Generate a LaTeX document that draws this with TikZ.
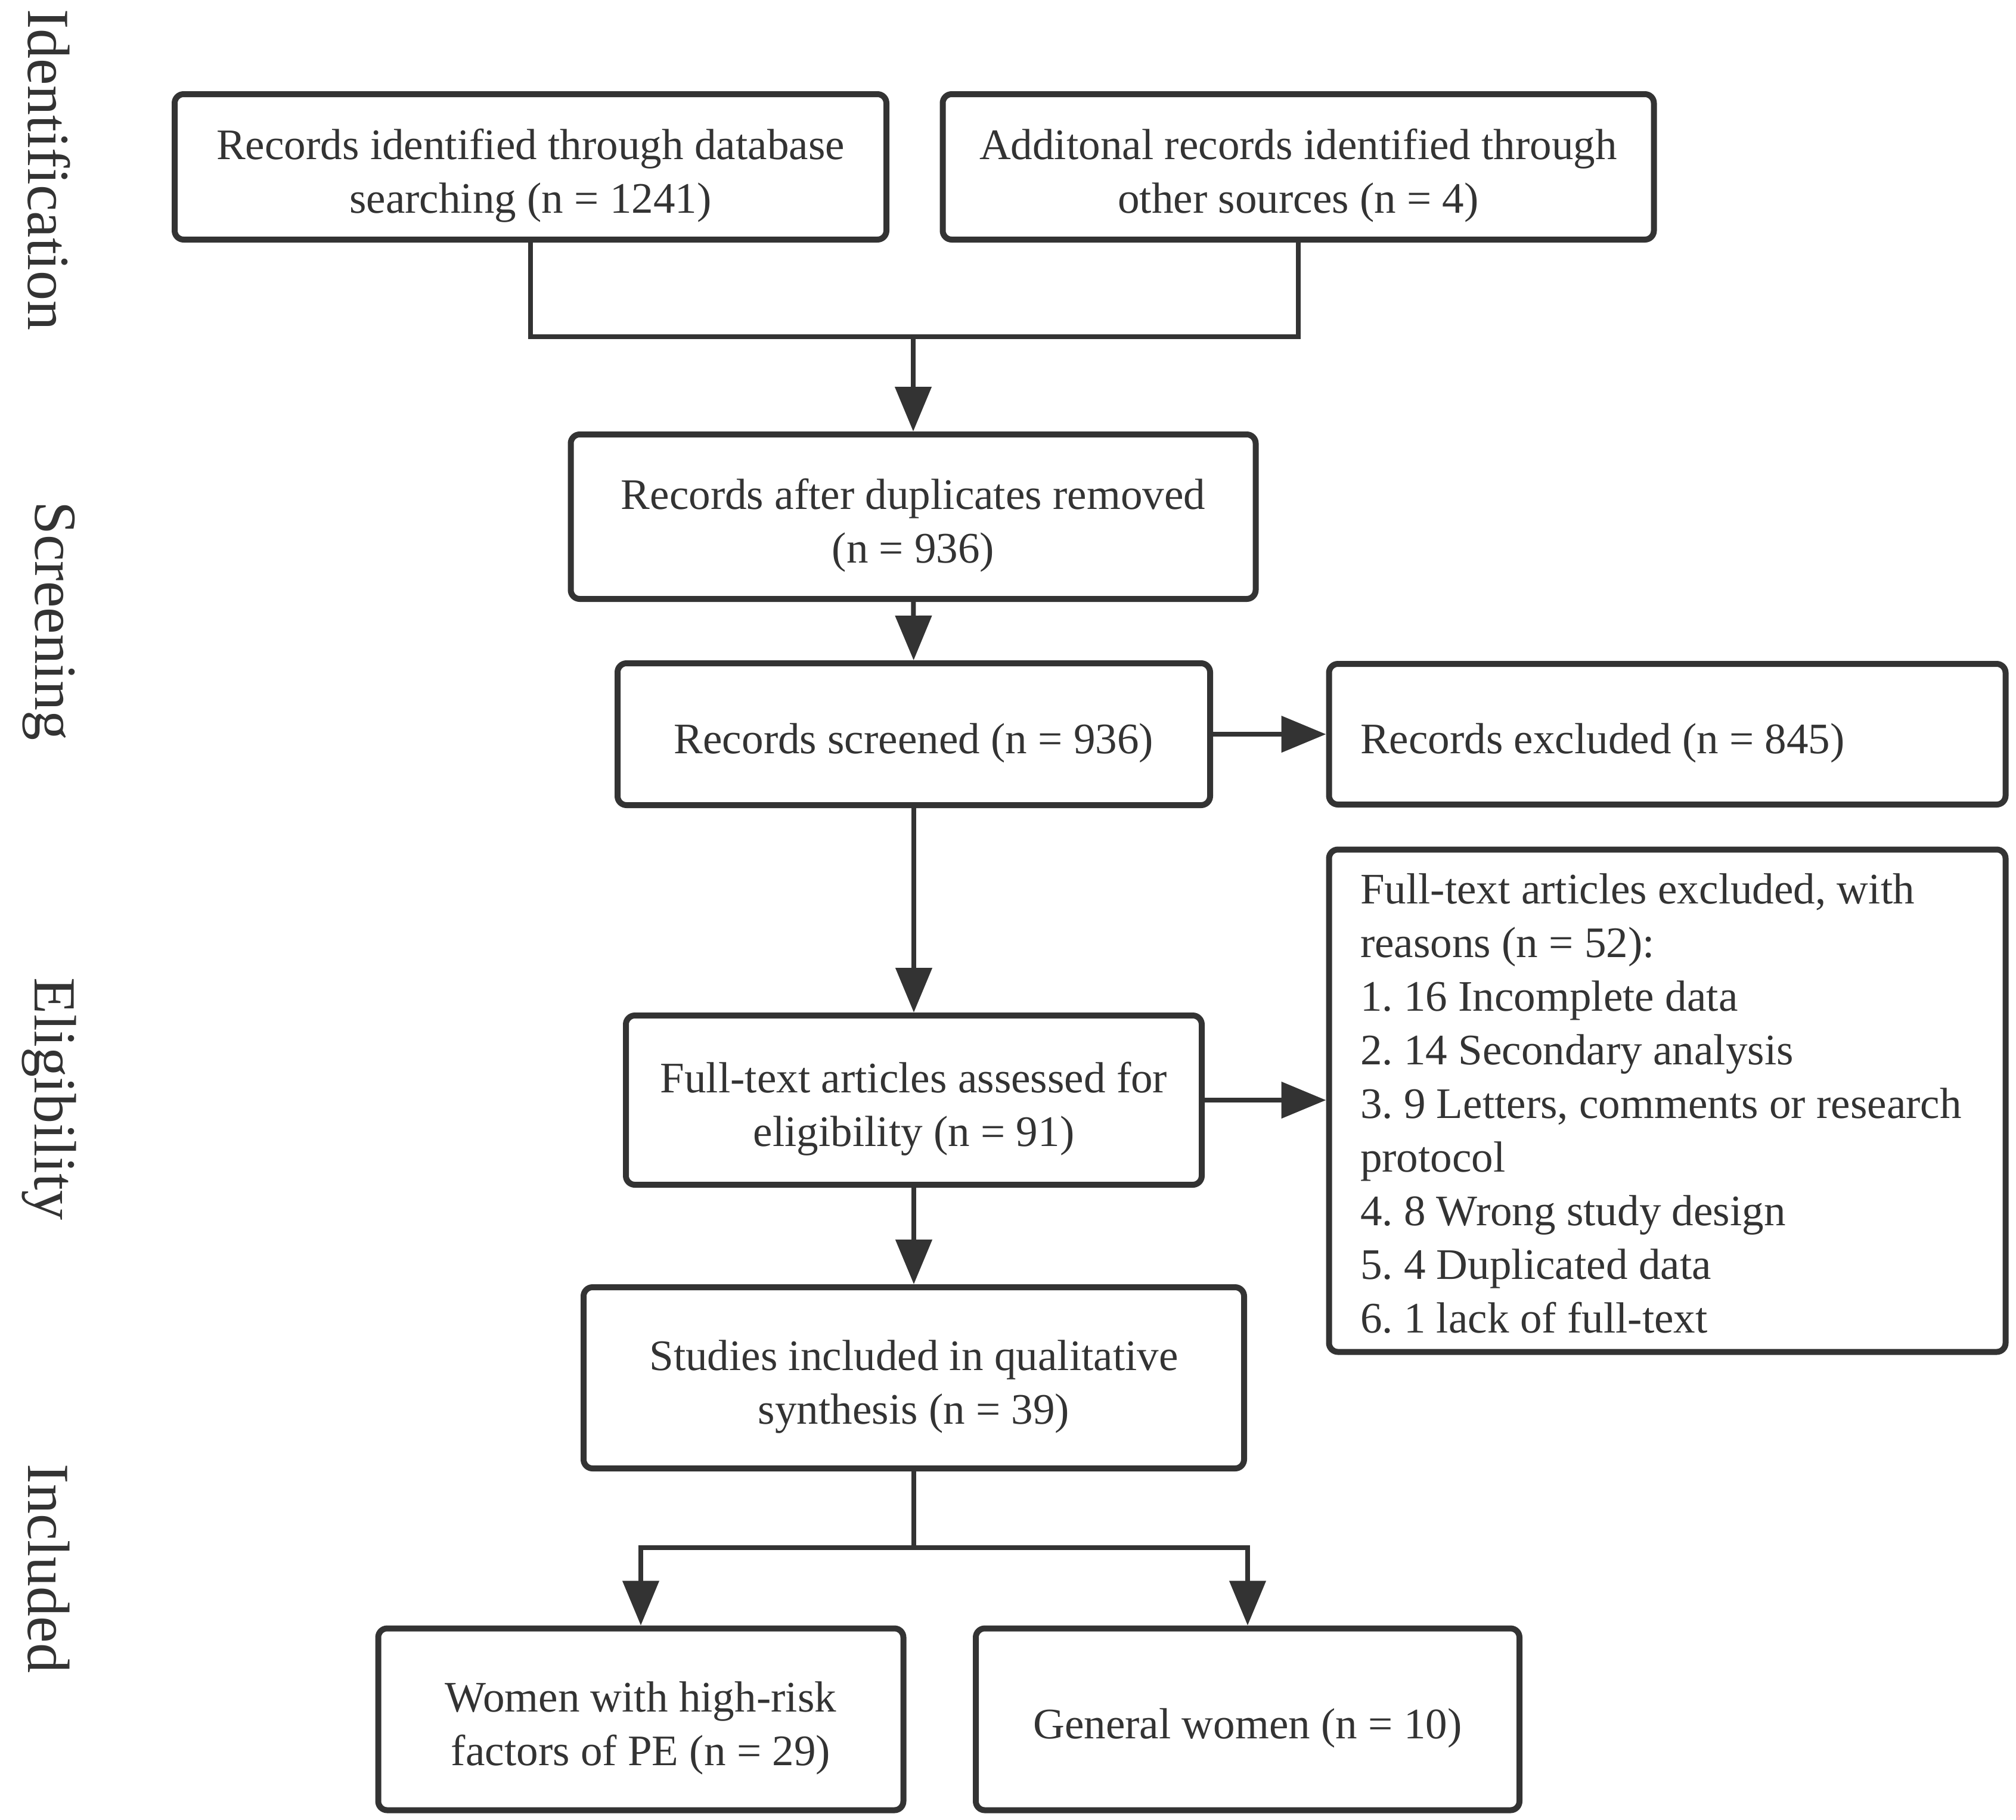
\documentclass[tikz,border=0pt]{standalone}
\usepackage{fontspec}
\setmainfont{Liberation Serif}
\usetikzlibrary{arrows.meta, positioning}
\definecolor{ink}{HTML}{333333}
\frenchspacing

\begin{document}
\begin{tikzpicture}[
    every path/.style = {},
    every node/.append style = {font=\fontsize{20.8}{25.6}\selectfont, text=ink},
    box/.style = {draw=ink, line width=1mm, rounded corners=1.5mm,
      align=flush center, inner sep=0pt, text width=#1,
      execute at begin node={\rule{0pt}{1.1em}}},
    leftbox/.style = {box=10.3cm, align=flush left, inner xsep=5.25mm},
    link/.style = {draw=ink, line width=0.8mm},
    arrow/.style = {link, -{Triangle[length=7.5mm, width=6mm]}},
    stage/.style = {rotate=-90, font=\fontsize{28.5}{34}\selectfont}
  ]
 \useasboundingbox (0,0) rectangle (33.82,-30.53);

 % stages
 \node[stage] (ident) at (0.82,-2.85) {Identification};
 \node[stage] (screen) at (0.82,-10.42) {Screening};
 \node[stage] (elig) at (0.82,-18.44) {Eligibility};
 \node[stage] (incl) at (0.82,-26.32) {Included};

 % identification
 \node[box=11.94cm, minimum height=2.44cm] (dbsearch) at (8.90,-2.80)
   {Records identified through database\\searching (n = 1241)};
 \node[box=11.93cm, minimum height=2.44cm] (othersrc) at (21.78,-2.80)
   {Additonal records identified through\\other sources (n = 4)};

 % screening
 \node[box=11.49cm, minimum height=2.76cm] (dedup) at (15.32,-8.67)
   {Records after duplicates removed\\(n = 936)};
 \node[box=9.94cm, minimum height=2.38cm] (screened) at (15.33,-12.32)
   {Records screened (n = 936)};
 \node[leftbox, minimum height=2.36cm] (excluded) at (27.97,-12.32)
   {Records excluded (n = 845)};

 % eligibility
 \node[box=9.66cm, minimum height=2.84cm] (fulltext) at (15.33,-18.46)
   {Full-text articles assessed for\\eligibility (n = 91)};
 \node[leftbox, minimum height=8.43cm, execute at begin node={},
   execute at end node={\par\vspace*{2mm}}] (ftexcl) at (27.97,-18.47)
   {Full-text articles excluded, with\\reasons (n = 52):\\1. 16 Incomplete data\\
    2. 14 Secondary analysis\\3. 9 Letters, comments or research\\protocol\\
    4. 8 Wrong study design\\5. 4 Duplicated data\\6. 1 lack of full-text};

 % included
 \node[box=11.08cm, minimum height=3.04cm] (qualit) at (15.33,-23.12)
   {Studies included in qualitative\\synthesis (n = 39)};
 \node[box=8.81cm, minimum height=3.05cm] (highrisk) at (10.75,-28.85)
   {Women with high-risk\\factors of PE (n = 29)};
 \node[box=9.12cm, minimum height=3.05cm] (general) at (20.93,-28.85)
   {General women (n = 10)};

 % connectors
 \coordinate (merge) at (dedup.north |- 0,-5.65);
 \coordinate (split) at (qualit.south |- 0,-25.97);
 \draw[link] (dbsearch.south) -- (dbsearch.south |- merge) -- (othersrc.south |- merge)
   -- (othersrc.south);
 \draw[arrow] (merge) -- (dedup.north);
 \draw[arrow] (dedup) -- (screened);
 \draw[arrow] (screened) -- (excluded);
 \draw[arrow] (screened) -- (fulltext);
 \draw[arrow] (fulltext.east) -- (fulltext.east -| ftexcl.west);
 \draw[arrow] (fulltext) -- (qualit);
 \draw[link] (qualit.south) -- (split);
 \draw[arrow] (split) -| (highrisk.north);
 \draw[arrow] (split) -| (general.north);
\end{tikzpicture}
\end{document}
